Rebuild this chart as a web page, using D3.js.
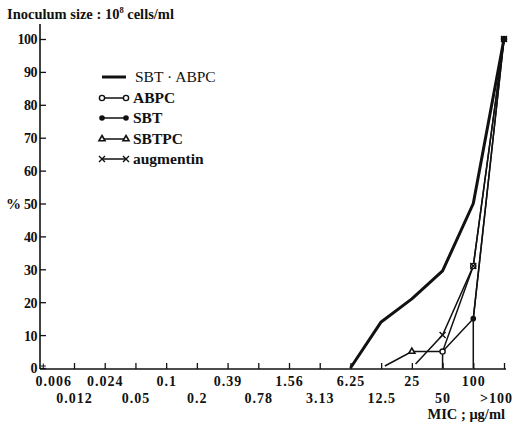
<!DOCTYPE html>
<html>
<head>
<meta charset="utf-8">
<title>MIC distribution</title>
<script src="https://d3js.org/d3.v7.min.js"></script>
<style>
  body { margin: 0; background: #fff; }
  text { font-family: "Liberation Serif", "DejaVu Serif", serif; font-weight: bold; fill: #111; }
</style>
</head>
<body>
<script>
// MIC categories (µg/ml) and y ticks
var micCats = ["0.006","0.012","0.024","0.05","0.1","0.2","0.39","0.78","1.56","3.13","6.25","12.5","25","50","100",">100"];
var pctTicks = [0,10,20,30,40,50,60,70,80,90,100];

// cumulative % per series
var sbtAbpcCats = ["6.25","12.5","25","50","100",">100"];
var sbtAbpcVals = [0, 14, 21, 29.5, 50, 100];

var abpcCats = ["50","50","100",">100"];
var abpcVals = [0, 5, 31, 100];
var abpcMarks = [false, true, true, true];

var sbtCats = ["100","100",">100"];
var sbtVals = [0, 15, 100];
var sbtMarks = [false, true, true];

var sbtpcCats = ["12.5","25","50","100",">100"];
var sbtpcVals = [0, 5, 5, 15, 100];
var sbtpcMarks = [false, true, false, false, false];

var augCats = ["25","50","100",">100"];
var augVals = [0, 10, 31, 100];
var augMarks = [false, true, true, true];

var legendNames = ["SBT \u00b7 ABPC", "ABPC", "SBT", "SBTPC", "augmentin"];

var W = 514, H = 426;
var svg = d3.select("body").append("svg").attr("width", W).attr("height", H);

var x = d3.scalePoint().domain(micCats).range([43.3, 504]);
var y = d3.scaleLinear().domain([0, 100]).range([368, 39]);

// title
var title = svg.append("text").attr("x", 7).attr("y", 19).style("font-size", "14.5px");
title.append("tspan").text("Inoculum size : 10");
title.append("tspan").attr("dy", -6).style("font-size", "8.5px").text("8");
title.append("tspan").attr("dy", 6).text(" cells/ml");

// y axis
svg.append("line").attr("x1", 40).attr("x2", 40).attr("y1", 24).attr("y2", y(0) + 1)
  .attr("stroke", "#111").attr("stroke-width", 1.6);
var ya = svg.append("g").attr("transform", "translate(40,0)")
  .call(d3.axisLeft(y).tickValues(pctTicks).tickSizeInner(-6).tickSizeOuter(0).tickPadding(3));
ya.select(".domain").remove();
ya.selectAll("line").attr("stroke", "#111").attr("stroke-width", 1.3);
ya.selectAll("text").style("font-size", "14px").style("font-family", "Liberation Serif")
  .style("letter-spacing", "-0.5px").attr("fill", "#111").attr("dy", "0.35em");
svg.append("text").attr("x", 6).attr("y", y(50) + 5).style("font-size", "15px").text("%");

// x axis
var axY = y(0) + 1;
svg.append("line").attr("x1", 40).attr("x2", 506).attr("y1", axY).attr("y2", axY)
  .attr("stroke", "#111").attr("stroke-width", 1.6);
var xa = svg.append("g").attr("transform", "translate(0," + axY + ")")
  .call(d3.axisBottom(x).tickSizeInner(-6).tickSizeOuter(0).tickPadding(0));
xa.select(".domain").remove();
xa.selectAll("line").attr("stroke", "#111").attr("stroke-width", 1.3);
xa.selectAll(".tick").filter(function(d, i) { return i === 0; }).select("line").remove();
var lastIdx = micCats.length - 1;
xa.selectAll("text")
  .style("font-size", "14px").style("font-family", "Liberation Serif").style("letter-spacing", "1px")
  .attr("fill", "#111")
  .attr("y", function(d, i) { return i % 2 === 0 ? 17 : 34; })
  .attr("dy", 0)
  .attr("dx", function(d, i) { return i === 0 ? 10 : (i === lastIdx ? -8 : 0); });
svg.append("text").attr("x", 505).attr("y", 419).attr("text-anchor", "end")
  .style("font-size", "14.5px").text("MIC ; \u03bcg/ml");

// series
function pts(cats, vals) {
  return cats.map(function(c, i) { return [x(c), y(vals[i])]; });
}
function trimStart(p, f) {
  var a = p[0], b = p[1];
  var q = p.slice();
  q[0] = [a[0] + (b[0] - a[0]) * f, a[1] + (b[1] - a[1]) * f];
  return q;
}
var line = d3.line();

svg.append("path").attr("d", line(pts(sbtAbpcCats, sbtAbpcVals)))
  .attr("fill", "none").attr("stroke", "#111").attr("stroke-width", 3).attr("stroke-linejoin", "round");
svg.append("path").attr("d", line(pts(abpcCats, abpcVals)))
  .attr("fill", "none").attr("stroke", "#111").attr("stroke-width", 1.5);
svg.append("path").attr("d", line(pts(sbtCats, sbtVals)))
  .attr("fill", "none").attr("stroke", "#111").attr("stroke-width", 1.5);
svg.append("path").attr("d", line(trimStart(pts(sbtpcCats, sbtpcVals), 0.12)))
  .attr("fill", "none").attr("stroke", "#111").attr("stroke-width", 1.5);
svg.append("path").attr("d", line(trimStart(pts(augCats, augVals), 0.12)))
  .attr("fill", "none").attr("stroke", "#111").attr("stroke-width", 1.5);

function drawMarker(g, type, cx, cy) {
  if (type === "open") {
    g.append("circle").attr("cx", cx).attr("cy", cy).attr("r", 2.6)
      .attr("fill", "#fff").attr("stroke", "#111").attr("stroke-width", 1.4);
  } else if (type === "dot") {
    g.append("circle").attr("cx", cx).attr("cy", cy).attr("r", 2.8).attr("fill", "#111");
  } else if (type === "tri") {
    g.append("path").attr("d", d3.symbol(d3.symbolTriangle, 16)())
      .attr("transform", "translate(" + cx + "," + cy + ")")
      .attr("fill", "#fff").attr("stroke", "#111").attr("stroke-width", 1.6);
  } else if (type === "cross") {
    g.append("path").attr("d", "M-3,-3L3,3M-3,3L3,-3")
      .attr("transform", "translate(" + cx + "," + cy + ")")
      .attr("stroke", "#111").attr("stroke-width", 1.4);
  }
}
var mg = svg.append("g");
[[abpcCats, abpcVals, abpcMarks, "open"],
 [sbtCats, sbtVals, sbtMarks, "dot"],
 [sbtpcCats, sbtpcVals, sbtpcMarks, "tri"],
 [augCats, augVals, augMarks, "cross"]].forEach(function(s) {
  s[0].forEach(function(c, i) {
    if (s[2][i]) drawMarker(mg, s[3], x(s[0][i]), y(s[1][i]));
  });
});
// small mark at the origin category
mg.append("path").attr("d", "M-2.5,0L2.5,0M0,-2.5L0,2.5")
  .attr("transform", "translate(" + x("0.006") + "," + (y(0) - 2) + ")")
  .attr("stroke", "#111").attr("stroke-width", 1);

// legend
var lg = svg.append("g");
var legTypes = ["thick", "open", "dot", "tri", "cross"];
var legY = [77, 98, 118, 139, 159];
legendNames.forEach(function(n, i) {
  var yy = legY[i];
  lg.append("line").attr("x1", 102).attr("x2", 126).attr("y1", yy).attr("y2", yy)
    .attr("stroke", "#111").attr("stroke-width", i === 0 ? 3 : 1.5);
  if (i > 0) {
    drawMarker(lg, legTypes[i], 102, yy);
    drawMarker(lg, legTypes[i], 126, yy);
  }
  lg.append("text").attr("x", i === 0 ? 135 : 133).attr("y", yy + 5)
    .style("font-size", "15.5px").style("font-weight", i === 0 ? "normal" : "bold").text(n);
});
</script>
</body>
</html>
